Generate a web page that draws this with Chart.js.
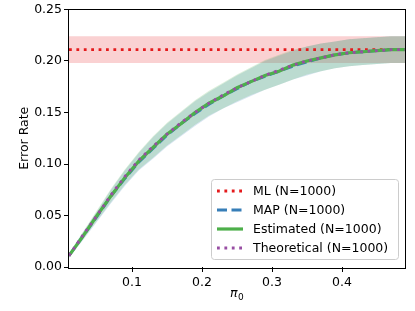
<!doctype html>
<html lang="en">
<head>
    <meta charset="utf-8" />
    <title>Error Rate vs pi0</title>
    <script src="https://cdn.jsdelivr.net/npm/chart.js@4.4.1/dist/chart.umd.min.js"></script>
    <style>
        html, body { margin: 0; padding: 0; background: #fff; }
        #wrap { width: 415px; height: 311px; }
    </style>
</head>
<body>
    <div id="wrap"><canvas id="myChart"></canvas></div>
    <script>
        // prior pi0 grid
        const piValues = [0.01, 0.03, 0.05, 0.07, 0.09, 0.11, 0.13, 0.15, 0.17, 0.19, 0.21, 0.23, 0.25,
            0.27, 0.29, 0.31, 0.33, 0.35, 0.37, 0.39, 0.41, 0.43, 0.45, 0.47, 0.49];

        const theoretical = [0.011, 0.031, 0.050, 0.070, 0.088, 0.104, 0.117, 0.129, 0.140, 0.150, 0.159, 0.167, 0.174,
            0.180, 0.186, 0.191, 0.196, 0.200, 0.203, 0.206, 0.208, 0.209, 0.210, 0.211, 0.211];
        const estimated = [0.011, 0.030, 0.050, 0.069, 0.087, 0.103, 0.116, 0.129, 0.139, 0.150, 0.159, 0.166, 0.174,
            0.180, 0.186, 0.190, 0.196, 0.200, 0.203, 0.206, 0.208, 0.209, 0.210, 0.211, 0.211];
        const estUpper = [0.013, 0.034, 0.055, 0.076, 0.095, 0.112, 0.127, 0.140, 0.151, 0.162, 0.171, 0.179, 0.187,
            0.194, 0.201, 0.206, 0.211, 0.214, 0.217, 0.219, 0.221, 0.222, 0.223, 0.224, 0.224];
        const estLower = [0.009, 0.027, 0.045, 0.063, 0.080, 0.095, 0.106, 0.118, 0.128, 0.138, 0.147, 0.154, 0.161,
            0.167, 0.172, 0.177, 0.182, 0.187, 0.190, 0.193, 0.195, 0.196, 0.197, 0.198, 0.198];
        const mapMean = [0.011, 0.030, 0.049, 0.069, 0.086, 0.102, 0.115, 0.128, 0.139, 0.149, 0.158, 0.166, 0.173,
            0.180, 0.185, 0.190, 0.195, 0.199, 0.203, 0.206, 0.208, 0.209, 0.210, 0.211, 0.211];
        const mapUpper = [0.013, 0.034, 0.054, 0.075, 0.094, 0.111, 0.126, 0.139, 0.150, 0.161, 0.170, 0.178, 0.186,
            0.193, 0.200, 0.205, 0.210, 0.214, 0.217, 0.219, 0.221, 0.222, 0.223, 0.224, 0.224];
        const mapLower = [0.009, 0.026, 0.044, 0.062, 0.079, 0.094, 0.105, 0.117, 0.127, 0.137, 0.146, 0.154, 0.160,
            0.166, 0.172, 0.177, 0.182, 0.186, 0.190, 0.193, 0.195, 0.196, 0.197, 0.198, 0.198];

        // ML does not depend on the prior
        const mlMean = 0.211;
        const mlUpper = 0.224;
        const mlLower = 0.198;

        const xTicks = [0.1, 0.2, 0.3, 0.4];
        const legendLabels = ['ML (N=1000)', 'MAP (N=1000)', 'Estimated (N=1000)', 'Theoretical (N=1000)'];

        const RED = '#e41a1c', BLUE = '#377eb8', GREEN = '#4daf4a', PURPLE = '#984ea3';
        const FONT = 'DejaVu Sans';

        const toXY = arr => piValues.map((p, i) => ({ x: p, y: arr[i] }));
        const constXY = v => piValues.map(p => ({ x: p, y: v }));

        // higher order = drawn further back
        const band = (data, color, order) => ({
            data: data, fill: '+1', backgroundColor: color, borderWidth: 0,
            pointRadius: 0, order: order
        });
        const edge = (data, order) => ({ data: data, fill: false, borderWidth: 0, pointRadius: 0, order: order });

        const datasets = [
            band(constXY(mlUpper), 'rgba(228,26,28,0.2)', 12),
            edge(constXY(mlLower), 12),
            band(toXY(mapUpper), 'rgba(55,126,184,0.2)', 11),
            edge(toXY(mapLower), 11),
            band(toXY(estUpper), 'rgba(77,175,74,0.2)', 10),
            edge(toXY(estLower), 10),
            { data: constXY(mlMean), borderColor: RED, borderWidth: 2.8, borderDash: [2.8, 4.6], pointRadius: 0, fill: false, order: 4 },
            { data: toXY(mapMean), borderColor: BLUE, borderWidth: 2.8, borderDash: [10, 4.5], pointRadius: 0, fill: false, order: 3 },
            { data: toXY(estimated), borderColor: GREEN, borderWidth: 3.2, pointRadius: 0, fill: false, order: 2 },
            { data: toXY(theoretical), borderColor: PURPLE, borderWidth: 2.8, borderDash: [2.8, 4.6], pointRadius: 0, fill: false, order: 1 }
        ];

        const legendStyles = [
            { color: RED, dash: [2.8, 4.6], width: 2.8 },
            { color: BLUE, dash: [10, 4.5], width: 2.8 },
            { color: GREEN, dash: [], width: 3.2 },
            { color: PURPLE, dash: [2.8, 4.6], width: 2.8 }
        ];

        // frame, axis title for x and the legend box (matplotlib look)
        const decor = {
            id: 'decor',
            afterDraw(chart) {
                const ctx = chart.ctx;
                const a = chart.chartArea;
                ctx.save();
                ctx.strokeStyle = '#000';
                ctx.lineWidth = 1;
                ctx.setLineDash([]);
                ctx.strokeRect(Math.round(a.left) - 0.5, Math.round(a.top) - 0.5,
                    Math.round(a.right - a.left) + 1, Math.round(a.bottom - a.top) + 1);

                // x axis title: pi with subscript 0
                ctx.fillStyle = '#000';
                ctx.textBaseline = 'alphabetic';
                ctx.textAlign = 'left';
                ctx.font = 'italic 12.5px "' + FONT + '"';
                ctx.fillText('π', 230, 297);
                ctx.font = '9px "' + FONT + '"';
                ctx.fillText('0', 238, 300);

                // legend
                const bx = 211.5, by = 179.5, bw = 187, bh = 80;
                ctx.beginPath();
                ctx.roundRect(bx, by, bw, bh, 3);
                ctx.fillStyle = 'rgba(255,255,255,0.8)';
                ctx.fill();
                ctx.strokeStyle = '#cccccc';
                ctx.lineWidth = 1;
                ctx.stroke();
                ctx.font = '12.5px "' + FONT + '"';
                ctx.textBaseline = 'middle';
                legendLabels.forEach((lab, i) => {
                    const y = 191 + i * 19;
                    const s = legendStyles[i];
                    ctx.beginPath();
                    ctx.setLineDash(s.dash);
                    ctx.strokeStyle = s.color;
                    ctx.lineWidth = s.width;
                    ctx.moveTo(217, y);
                    ctx.lineTo(243, y);
                    ctx.stroke();
                    ctx.setLineDash([]);
                    ctx.fillStyle = '#000';
                    ctx.fillText(lab, 253, y + 1);
                });
                ctx.restore();
            }
        };

        const ctx = document.getElementById('myChart').getContext('2d');
        const myChart = new Chart(ctx, {
            type: 'line',
            data: { datasets: datasets },
            plugins: [decor],
            options: {
                responsive: true,
                maintainAspectRatio: false,
                animation: false,
                layout: { padding: { left: 0, top: 9, right: 10, bottom: 0 } },
                plugins: {
                    legend: { display: false },
                    tooltip: { enabled: false },
                    filler: { propagate: false }
                },
                scales: {
                    x: {
                        type: 'linear',
                        min: 0.01,
                        max: 0.49,
                        afterBuildTicks: axis => { axis.ticks = xTicks.map(v => ({ value: v })); },
                        afterFit: axis => { axis.height = 44; },
                        grid: { drawOnChartArea: false, drawTicks: true, tickLength: 5, color: '#000' },
                        border: { display: false },
                        ticks: {
                            color: '#000', padding: 3, maxRotation: 0,
                            font: { family: FONT, size: 12.5 },
                            callback: v => v.toFixed(1)
                        }
                    },
                    y: {
                        min: 0,
                        max: 0.25,
                        afterFit: axis => { axis.width = 69; },
                        grid: { drawOnChartArea: false, drawTicks: true, tickLength: 5, color: '#000' },
                        border: { display: false },
                        ticks: {
                            color: '#000', padding: 2, stepSize: 0.05,
                            font: { family: FONT, size: 12.5 },
                            callback: v => v.toFixed(2)
                        },
                        title: {
                            display: true, text: 'Error Rate', color: '#000',
                            font: { family: FONT, size: 12.5 },
                            padding: { top: 17, bottom: 0 }
                        }
                    }
                }
            }
        });
    </script>
</body>
</html>
